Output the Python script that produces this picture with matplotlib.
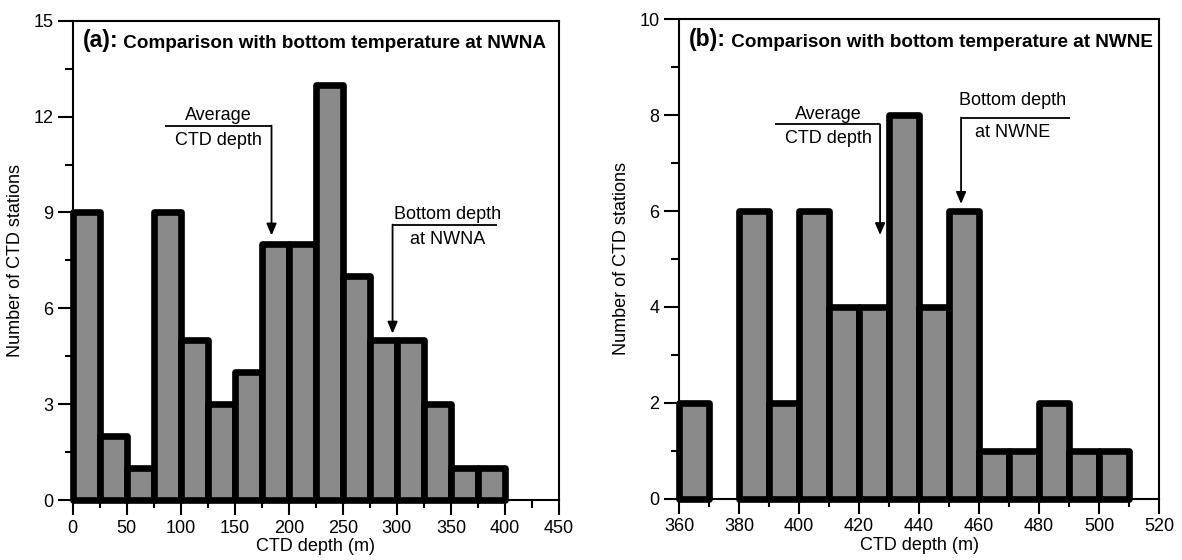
import numpy as np
import matplotlib.pyplot as plt
from matplotlib.ticker import MultipleLocator

plt.rcParams['font.family'] = ['Liberation Sans', 'DejaVu Sans']

# (a) NWNA: CTD depth histogram, 25 m bins
nwna_edges = np.arange(0, 400, 25)
nwna_counts = [9, 2, 1, 9, 5, 3, 4, 8, 8, 13, 7, 5, 5, 3, 1, 1]
nwna_avg_depth = 184
nwna_bottom_depth = 296

# (b) NWNE: CTD depth histogram, 10 m bins
nwne_edges = np.arange(360, 510, 10)
nwne_counts = [2, 0, 6, 2, 6, 4, 4, 8, 4, 6, 1, 1, 2, 1, 1]
nwne_avg_depth = 427
nwne_bottom_depth = 454

fig = plt.figure(figsize=(11.82, 5.6), dpi=100)
ax_a = fig.add_axes([0.0615, 0.107, 0.4114, 0.856])
ax_b = fig.add_axes([0.5745, 0.1095, 0.4061, 0.856])


def histo(ax, edges, counts, width):
    edges = np.asarray(edges)
    counts = np.asarray(counts)
    keep = counts > 0  # empty bins get no box
    bars = ax.bar(edges[keep], counts[keep], width=width, align='edge',
                  color='#8a8a8a', edgecolor='black', linewidth=4.8,
                  zorder=3, clip_on=False)
    for b in bars:
        b.set_joinstyle('round')


def style(ax, xlim, ylim, xmaj, xmin, ymaj, ymin):
    ax.set_xlim(*xlim)
    ax.set_ylim(*ylim)
    ax.xaxis.set_major_locator(MultipleLocator(xmaj))
    ax.xaxis.set_minor_locator(MultipleLocator(xmin))
    ax.yaxis.set_major_locator(MultipleLocator(ymaj))
    ax.yaxis.set_minor_locator(MultipleLocator(ymin))
    ax.tick_params(which='major', direction='out', length=11, width=1.5,
                   labelsize=13, pad=3)
    ax.tick_params(which='minor', direction='out', length=5.5, width=1.5)
    for s in ax.spines.values():
        s.set_linewidth(1.5)
    ax.set_xlabel('CTD depth (m)', fontsize=13, labelpad=1)
    ax.set_ylabel('Number of CTD stations', fontsize=13, labelpad=7)


def panel_title(ax, tag, text):
    t = ax.text(0.02, 0.982, tag, transform=ax.transAxes, fontsize=16.5,
                fontweight='bold', va='top', ha='left')
    ax.annotate(' ' + text, xy=(1, 0), xycoords=t, va='bottom', ha='left',
                fontsize=13.6, fontweight='bold')


def pointer(ax, label1, label2, x_arrow, x_other, y_line, y_tip, x_text,
            up=1.0, down=4.3):
    # underlined first line, second line below it, arrow down to the bar
    ax.plot([x_arrow, x_other], [y_line, y_line], color='black', lw=1.3,
            solid_capstyle='butt', zorder=4)
    ax.annotate('', xy=(x_arrow, y_tip), xytext=(x_arrow, y_line),
                arrowprops=dict(arrowstyle='-|>,head_length=0.7,head_width=0.3',
                                lw=1.3, color='black', shrinkA=0, shrinkB=0),
                zorder=4)
    ax.annotate(label1, xy=(x_text, y_line), xytext=(0, up),
                textcoords='offset points', ha='center', va='bottom', fontsize=13)
    ax.annotate(label2, xy=(x_text, y_line), xytext=(0, -down),
                textcoords='offset points', ha='center', va='top', fontsize=13)


histo(ax_a, nwna_edges, nwna_counts, 25)
style(ax_a, (0, 450), (0, 15), 50, 25, 3, 1.5)
panel_title(ax_a, '(a):', 'Comparison with bottom temperature at NWNA')
pointer(ax_a, 'Average', 'CTD depth', nwna_avg_depth, 85.5, 11.72, 8.28, 135)
pointer(ax_a, 'Bottom depth', 'at NWNA', nwna_bottom_depth, 392.6, 8.62, 5.21, 347)

histo(ax_b, nwne_edges, nwne_counts, 10)
style(ax_b, (360, 520), (0, 10), 20, 10, 2, 1)
panel_title(ax_b, '(b):', 'Comparison with bottom temperature at NWNE')
pointer(ax_b, 'Average', 'CTD depth', nwne_avg_depth, 392, 7.81, 5.5, 409.7)
pointer(ax_b, 'Bottom depth', 'at NWNE', nwne_bottom_depth, 490.2, 7.95, 6.15, 471.3,
        up=6.0)

fig.savefig('out.png', dpi=100)
